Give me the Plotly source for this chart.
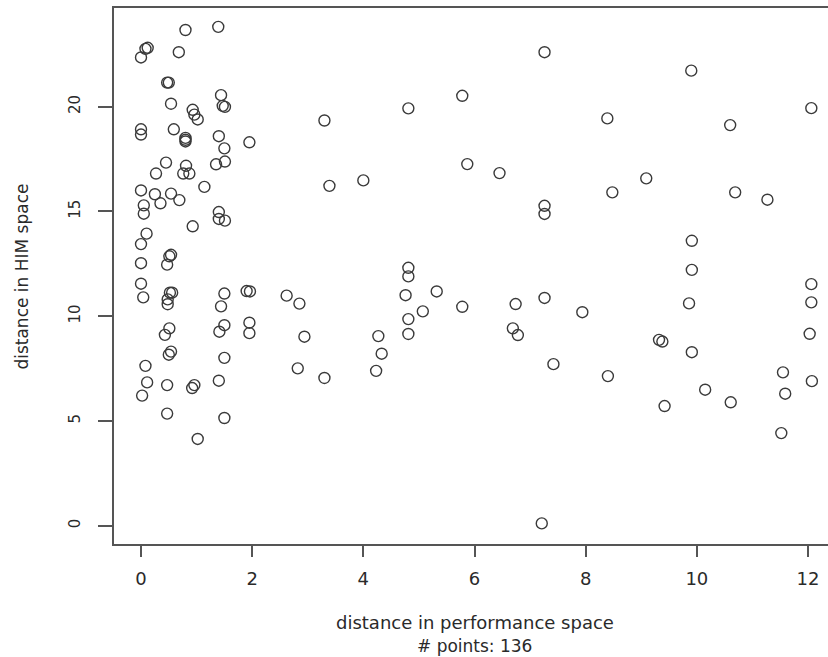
import plotly.graph_objects as go

# distance in performance space (x) and distance in HIM space (y)
perf_dist = [
    0.80, 1.39, 0.08, 0.12, 0.00, 0.68, 0.47, 0.50, 1.44, 1.47,
    1.51, 0.54, 0.93, 0.96, 1.02, 0.00, 0.00, 0.59, 0.80, 0.80,
    0.80, 1.40, 1.95, 1.50, 0.45, 0.81, 0.76, 0.87, 1.35, 1.51,
    0.27, 1.14, 0.00, 0.25, 0.54, 0.69, 0.35, 0.05, 0.05, 1.40,
    1.40, 1.51, 0.93, 0.10, 0.00, 0.54, 0.51, 0.00, 0.47, 0.00,
    0.04, 0.52, 0.56, 0.48, 0.48, 1.50, 1.44, 1.90, 1.96, 0.51,
    0.43, 1.50, 1.41, 1.95, 1.95, 0.54, 0.50, 1.50, 0.08, 0.11,
    0.02, 0.47, 0.96, 0.92, 1.40, 0.47, 1.50, 1.02,
    7.26, 5.78, 4.81, 3.30, 5.87, 6.45, 3.39, 4.00, 7.26, 7.26,
    4.81, 4.81, 2.62, 2.85, 4.76, 5.32, 5.78, 6.74, 7.26, 5.07,
    4.81, 2.94, 4.27, 4.81, 6.69, 6.78, 4.33, 7.42, 2.82, 3.30,
    4.23, 7.21,
    9.90, 8.39, 10.60, 12.06, 9.09, 8.48, 10.69, 11.27, 9.91, 9.91,
    12.06, 12.06, 9.86, 7.94, 9.32, 9.38, 9.91, 12.03, 8.40, 11.55,
    12.07, 10.15, 10.61, 9.42, 11.59, 11.52,
]
him_dist = [
    23.66, 23.81, 22.76, 22.81, 22.35, 22.60, 21.15, 21.15, 20.55, 20.04,
    19.99, 20.14, 19.85, 19.62, 19.39, 18.92, 18.67, 18.92, 18.51, 18.34,
    18.42, 18.59, 18.30, 18.01, 17.33, 17.18, 16.81, 16.81, 17.25, 17.38,
    16.81, 16.17, 16.00, 15.82, 15.85, 15.54, 15.39, 15.29, 14.89, 14.97,
    14.64, 14.56, 14.29, 13.94, 13.44, 12.93, 12.86, 12.53, 12.46, 11.55,
    10.90, 11.12, 11.12, 10.80, 10.57, 11.08, 10.47, 11.20, 11.18, 9.42,
    9.11, 9.57, 9.26, 9.69, 9.19, 8.31, 8.16, 8.01, 7.63, 6.84,
    6.21, 6.71, 6.71, 6.57, 6.92, 5.35, 5.14, 4.14,
    22.60, 20.52, 19.92, 19.34, 17.26, 16.83, 16.22, 16.48, 15.27, 14.88,
    12.31, 11.90, 10.98, 10.60, 11.00, 11.18, 10.45, 10.58, 10.87, 10.23,
    9.86, 9.02, 9.05, 9.15, 9.42, 9.10, 8.21, 7.71, 7.51, 7.05,
    7.39, 0.11,
    21.72, 19.44, 19.12, 19.93, 16.58, 15.91, 15.91, 15.56, 13.60, 12.21,
    11.53, 10.66, 10.61, 10.19, 8.87, 8.79, 8.28, 9.16, 7.14, 7.32,
    6.90, 6.49, 5.89, 5.71, 6.30, 4.42,
]

x_ticks = [0, 2, 4, 6, 8, 10, 12]
y_ticks = [0, 5, 10, 15, 20]
x_title = "distance in performance space"
sub_title = "# points: 136"
y_title = "distance in HIM space"

FONT = "DejaVu Sans"
TXT = "#2a2a2a"
AX = "#555555"

fig = go.Figure()
fig.add_trace(go.Scatter(
    x=perf_dist, y=him_dist, mode="markers",
    marker=dict(symbol="circle-open", size=11, color="#3a3a3a",
                line=dict(width=1.4, color="#3a3a3a")),
    hoverinfo="skip", showlegend=False,
))

fig.update_layout(
    width=828, height=657,
    margin=dict(l=114, r=0, t=8, b=113),
    paper_bgcolor="white", plot_bgcolor="white",
    font=dict(family=FONT, color=TXT),
    xaxis=dict(
        range=[-0.486, 12.36], tickvals=x_ticks, ticktext=[str(v) for v in x_ticks],
        showgrid=False, zeroline=False, showline=True, mirror=True,
        linecolor=AX, linewidth=1.5, ticks="outside", ticklen=11,
        tickcolor=AX, tickwidth=1.5, tickfont=dict(size=18, family=FONT, color=TXT),
        ticklabelstandoff=7,
    ),
    yaxis=dict(
        range=[-0.874, 24.71], tickvals=y_ticks, ticktext=[str(v) for v in y_ticks],
        showgrid=False, zeroline=False, showline=True, mirror=False,
        linecolor=AX, linewidth=1.5, ticks="outside", ticklen=14,
        tickcolor=AX, tickwidth=1.5, tickangle=-90,
        tickfont=dict(size=15, family=FONT, color=TXT),
        ticklabelstandoff=12,
    ),
    annotations=[
        dict(text=x_title, x=6.0, xref="x", y=-0.147, yref="paper",
             xanchor="center", yanchor="middle", showarrow=False,
             font=dict(size=18, family=FONT, color=TXT)),
        dict(text=sub_title, x=6.0, xref="x", y=-0.19, yref="paper",
             xanchor="center", yanchor="middle", showarrow=False,
             font=dict(size=17, family=FONT, color=TXT)),
        dict(text=y_title, x=-0.129, xref="paper", y=0.4987, yref="paper",
             xanchor="center", yanchor="middle", showarrow=False, textangle=-90,
             font=dict(size=17, family=FONT, color=TXT)),
    ],
)

fig.write_html("out.html", config={"displayModeBar": False},
               post_script="document.body.style.margin='0px';document.body.style.overflow='hidden';")
